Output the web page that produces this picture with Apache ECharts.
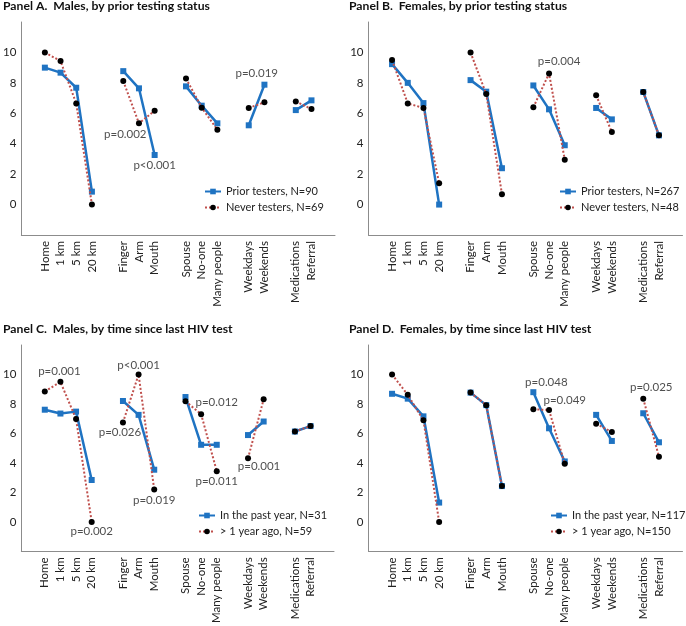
<!DOCTYPE html>
<html>
<head>
<meta charset="utf-8">
<script src="https://cdn.jsdelivr.net/npm/echarts@6/dist/echarts.min.js"></script>
<style>
  html, body { margin: 0; padding: 0; background: #fff; }
  #chart { width: 686px; height: 626px; }
</style>
</head>
<body>
<div id="chart"></div>
<script>
// ---- Data ----
const itemNames = ['Home', '1 km', '5 km', '20 km', 'Finger', 'Arm', 'Mouth', 'Spouse', 'No-one', 'Many people', 'Weekdays', 'Weekends', 'Medications', 'Referral'];
// slot layout: blank slots separate groups
const categories = ['', 'Home', '1 km', '5 km', '20 km', '', 'Finger', 'Arm', 'Mouth', '', 'Spouse', 'No-one', 'Many people', '', 'Weekdays', 'Weekends', '', 'Medications', 'Referral', ''];
const yTicks = [0, 2, 4, 6, 8, 10];

const titles = [
  'Panel A.  Males, by prior testing status',
  'Panel B.  Females, by prior testing status',
  'Panel C.  Males, by time since last HIV test',
  'Panel D.  Females, by time since last HIV test'
];

const namesA = ['Prior testers, N=90', 'Never testers, N=69'];
const namesB = ['Prior testers, N=267', 'Never testers, N=48'];
const namesC = ['In the past year, N=31', '> 1 year ago, N=59'];
const namesD = ['In the past year, N=117', '> 1 year ago, N=150'];

const aPrior = [9.0, 8.67, 7.68, 0.85, 8.77, 7.64, 3.26, 7.77, 6.5, 5.34, 5.21, 7.88, 6.21, 6.85];
const aNever = [10.0, 9.43, 6.65, 0.0, 8.12, 5.34, 6.17, 8.29, 6.37, 4.92, 6.35, 6.72, 6.78, 6.28];
const bPrior = [9.23, 8.0, 6.67, 0.0, 8.18, 7.42, 2.39, 7.83, 6.26, 3.9, 6.35, 5.6, 7.4, 4.55];
const bNever = [9.5, 6.65, 6.35, 1.4, 10.0, 7.26, 0.68, 6.39, 8.62, 2.95, 7.18, 4.77, 7.4, 4.55];
const cRecent = [7.61, 7.35, 7.48, 2.84, 8.2, 7.26, 3.54, 8.47, 5.23, 5.23, 5.89, 6.81, 6.13, 6.5];
const cOlder = [8.84, 9.5, 6.98, 0.0, 6.74, 10.0, 2.19, 8.18, 7.31, 3.44, 4.31, 8.32, 6.13, 6.5];
const dRecent = [8.69, 8.36, 7.16, 1.31, 8.77, 7.92, 2.43, 8.8, 6.35, 4.1, 7.26, 5.49, 7.37, 5.4];
const dOlder = [10.0, 8.62, 6.89, 0.0, 8.77, 7.92, 2.43, 7.64, 7.59, 3.94, 6.65, 6.1, 8.36, 4.42];

// p-value annotations: [anchor item, y value, text]
const notesA = [['Finger', 4.6, 'p=0.002'], ['Mouth', 2.57, 'p<0.001'], ['Weekdays', 8.62, 'p=0.019']];
const notesB = [['No-one', 9.41, 'p=0.004']];
const notesC = [['1 km', 10.2, 'p=0.001'], ['Arm', 10.64, 'p<0.001'], ['Finger', 6.06, 'p=0.026'], ['Mouth', 1.47, 'p=0.019'],
                ['20 km', -0.65, 'p=0.002'], ['Many people', 8.09, 'p=0.012'], ['Many people', 2.76, 'p=0.011'], ['Weekdays', 3.79, 'p=0.001']];
const notesD = [['Spouse', 9.46, 'p=0.048'], ['Many people', 8.28, 'p=0.049'], ['Medications', 9.13, 'p=0.025']];

// ---- Layout / style (kept separate from data) ----
const noteShift = { // horizontal pixel shifts of annotation text
  A: [2, 0, 8], B: [10], C: [-1, 0, -3, 0, 0, 0, 0, 11], D: [13, 0, 8]
};
const grids = [
  { left: 21, top: 22, width: 314, height: 213 },
  { left: 368.5, top: 22, width: 314, height: 213 },
  { left: 21, top: 345, width: 313, height: 213 },
  { left: 368.5, top: 345, width: 314, height: 213 }
];
const titlePos = [{ left: 3, top: 0 }, { left: 349, top: 0 }, { left: 3, top: 323 }, { left: 349, top: 323 }];
const legendPos = [{ left: 204, top: 186 }, { left: 559, top: 186 }, { left: 198, top: 510 }, { left: 550, top: 510 }];

const FONT = 'Lato';
const BLUE = '#1f73c2';
const RED = '#c0504d';

function toSlots(vals) {
  const out = categories.map(() => null);
  itemNames.forEach((n, i) => { out[categories.indexOf(n)] = vals[i]; });
  return out;
}

const panels = [
  { names: namesA, s1: aPrior, s2: aNever, notes: notesA, shift: noteShift.A },
  { names: namesB, s1: bPrior, s2: bNever, notes: notesB, shift: noteShift.B },
  { names: namesC, s1: cRecent, s2: cOlder, notes: notesC, shift: noteShift.C },
  { names: namesD, s1: dRecent, s2: dOlder, notes: notesD, shift: noteShift.D }
];

const option = {
  animation: false,
  backgroundColor: '#fff',
  textStyle: { fontFamily: FONT },
  title: titles.map((t, i) => ({
    text: t, left: titlePos[i].left, top: titlePos[i].top, padding: 0,
    textStyle: { fontFamily: FONT, fontSize: 12.2, fontWeight: 'bold', color: '#111' }
  })),
  grid: grids,
  legend: panels.map((p, i) => ({
    data: p.names, orient: 'vertical', left: legendPos[i].left, top: legendPos[i].top,
    padding: 0, itemWidth: 16, itemHeight: 7, itemGap: 5,
    textStyle: { fontFamily: FONT, fontSize: 11, color: '#222' },
    selectedMode: false
  })),
  xAxis: grids.map((g, i) => ({
    type: 'category', gridIndex: i, data: categories, boundaryGap: true,
    axisLine: { onZero: false, lineStyle: { color: '#8c8c8c', width: 1 } },
    axisTick: { show: false },
    axisLabel: { interval: 0, rotate: 90, margin: 6, fontFamily: FONT, fontSize: 11.5, color: '#222' },
    splitLine: { show: false }
  })),
  yAxis: grids.map((g, i) => ({
    type: 'value', gridIndex: i, min: -2, max: 12, interval: 2,
    axisLine: { show: true, lineStyle: { color: '#8c8c8c', width: 1 } },
    axisTick: { show: false },
    splitLine: { show: false },
    axisLabel: {
      margin: 5, fontFamily: FONT, fontSize: 11.5, color: '#222',
      formatter: v => (yTicks.indexOf(v) >= 0 ? String(v) : '')
    }
  })),
  series: []
};

panels.forEach((p, i) => {
  option.series.push({
    name: p.names[0], type: 'line', xAxisIndex: i, yAxisIndex: i,
    data: toSlots(p.s1), connectNulls: false,
    symbol: 'rect', symbolSize: 6, showSymbol: true,
    lineStyle: { color: BLUE, width: 2.5 },
    itemStyle: { color: BLUE },
    z: 2
  });
  option.series.push({
    name: p.names[1], type: 'line', xAxisIndex: i, yAxisIndex: i,
    data: toSlots(p.s2), connectNulls: false,
    symbol: 'circle', symbolSize: 6, showSymbol: true,
    lineStyle: { color: RED, width: 2, type: 'dotted' },
    itemStyle: { color: '#000' },
    z: 3
  });
  option.series.push({
    type: 'scatter', xAxisIndex: i, yAxisIndex: i, silent: true,
    symbolSize: 1, itemStyle: { color: 'rgba(0,0,0,0)' },
    data: p.notes.map((n, k) => ({
      value: [categories.indexOf(n[0]), n[1], n[2]],
      label: { offset: [p.shift[k], 0] }
    })),
    label: {
      show: true, position: 'inside', formatter: q => q.value[2],
      fontFamily: FONT, fontSize: 11.5, color: '#222'
    },
    z: 5
  });
});

const chart = echarts.init(document.getElementById('chart'), null, { renderer: 'canvas' });
chart.setOption(option);
</script>
</body>
</html>
